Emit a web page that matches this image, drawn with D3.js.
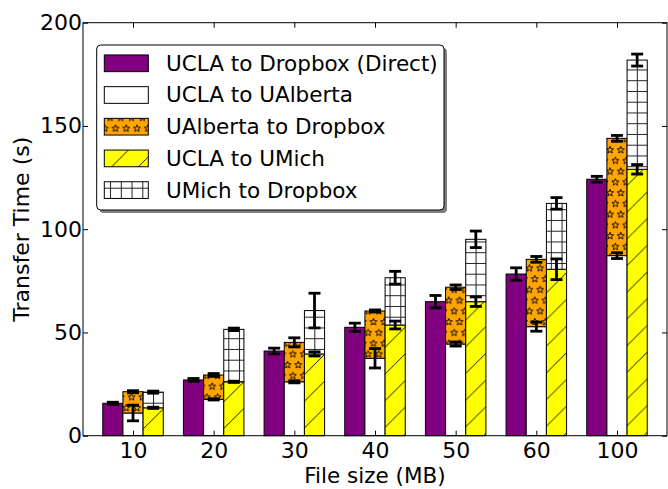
<!DOCTYPE html>
<html>
<head>
<meta charset="utf-8">
<script src="https://cdn.jsdelivr.net/npm/d3@7"></script>
<style>
  html, body { margin: 0; padding: 0; background: #fff; }
  svg { display: block; font-family: "DejaVu Sans", sans-serif; }
</style>
</head>
<body>
<svg id="chart" width="668" height="489"></svg>
<script>
// File sizes on the x axis
const fileSizes = ["10", "20", "30", "40", "50", "60", "100"];

// Mean transfer times (s) and their error bars
const direct               = [15.7, 27.0, 41.0, 52.5, 64.9, 78.3, 124.2];
const directErr            = [0.5, 0.7, 1.4, 2.0, 3.0, 3.0, 1.4];
const uclaToUAlberta       = [11.0, 17.6, 26.1, 37.5, 44.4, 52.8, 87.2];
const uclaToUAlbertaErr    = [3.8, 0.3, 0.5, 4.7, 1.0, 2.2, 1.4];
const uAlbertaToDropbox    = [10.3, 11.8, 19.1, 22.9, 27.5, 32.6, 56.8];
const uAlbertaToDropboxErr = [0.5, 0.7, 2.2, 0.5, 1.1, 1.4, 1.4];
const uclaToUMich          = [13.5, 26.1, 39.6, 53.6, 64.9, 80.6, 129.0];
const uclaToUMichErr       = [0.3, 0.3, 1.0, 1.9, 2.3, 5.0, 2.3];
const uMichToDropbox       = [7.6, 25.4, 21.0, 22.9, 30.2, 31.9, 52.9];
const uMichToDropboxErr    = [0.5, 0.6, 8.4, 3.1, 4.0, 2.8, 2.9];

// Axis ticks
const yTicks = [0, 50, 100, 150, 200];

const svg = d3.select("#chart");
const plot = { left: 83, right: 667, top: 22.7, bottom: 435.7 };

const x = d3.scaleLinear().domain([-0.62, 6.62]).range([plot.left, plot.right]);
const y = d3.scaleLinear().domain([0, 200]).range([plot.bottom, plot.top]);
const barW = 0.25;

// ---- hatch patterns ----
const defs = svg.append("defs");

function starPath(cx, cy, R, r) {
  const pts = [];
  for (let k = 0; k < 10; k++) {
    const a = -Math.PI / 2 + k * Math.PI / 5;
    const rad = k % 2 === 0 ? R : r;
    pts.push([cx + rad * Math.cos(a), cy + rad * Math.sin(a)]);
  }
  return "M" + pts.map(p => p[0].toFixed(2) + "," + p[1].toFixed(2)).join("L") + "Z";
}

// stars on orange
const sStar = 10.75;
const pStars = defs.append("pattern").attr("id", "stars")
  .attr("patternUnits", "userSpaceOnUse")
  .attr("x", 8).attr("y", 21)
  .attr("width", sStar).attr("height", 2 * sStar);
pStars.append("rect").attr("width", sStar).attr("height", 2 * sStar).attr("fill", "#FFA500");
[[0, 0], [sStar, 0], [0, 2 * sStar], [sStar, 2 * sStar], [sStar / 2, sStar]].forEach(([cx, cy]) => {
  pStars.append("path").attr("d", starPath(cx, cy, 3.7, 1.55))
    .attr("fill", "none").attr("stroke", "#000").attr("stroke-width", 0.9);
});

// diagonal lines on yellow
const sSlash = 26.7;
const pSlash = defs.append("pattern").attr("id", "slash")
  .attr("patternUnits", "userSpaceOnUse")
  .attr("x", 11.5).attr("y", 0)
  .attr("width", sSlash).attr("height", sSlash);
pSlash.append("rect").attr("width", sSlash).attr("height", sSlash).attr("fill", "#FFFF00");
pSlash.append("path")
  .attr("d", `M-2,2L2,-2M0,${sSlash}L${sSlash},0M${sSlash - 2},${sSlash + 2}L${sSlash + 2},${sSlash - 2}`)
  .attr("stroke", "#000").attr("stroke-width", 0.9);

// square grid on white
const sGrid = 10.75;
const pGrid = defs.append("pattern").attr("id", "grid")
  .attr("patternUnits", "userSpaceOnUse")
  .attr("x", 3.05 - sGrid / 2).attr("y", 5.45 - sGrid / 2)
  .attr("width", sGrid).attr("height", sGrid);
pGrid.append("rect").attr("width", sGrid).attr("height", sGrid).attr("fill", "#fff");
pGrid.append("path")
  .attr("d", `M${sGrid / 2},0V${sGrid}M0,${sGrid / 2}H${sGrid}`)
  .attr("stroke", "#222").attr("stroke-width", 1);

// ---- series layout ----
const zeros = fileSizes.map(() => 0);
const layers = [
  { name: "UCLA to Dropbox (Direct)", values: direct, err: directErr, base: zeros, offset: -0.25, fill: "#800080" },
  { name: "UCLA to UAlberta", values: uclaToUAlberta, err: uclaToUAlbertaErr, base: zeros, offset: 0, fill: "#ffffff" },
  { name: "UAlberta to Dropbox", values: uAlbertaToDropbox, err: uAlbertaToDropboxErr, base: uclaToUAlberta, offset: 0, fill: "url(#stars)" },
  { name: "UCLA to UMich", values: uclaToUMich, err: uclaToUMichErr, base: zeros, offset: 0.25, fill: "url(#slash)" },
  { name: "UMich to Dropbox", values: uMichToDropbox, err: uMichToDropboxErr, base: uclaToUMich, offset: 0.25, fill: "url(#grid)" }
];

// ---- bars ----
const barsG = svg.append("g");
layers.forEach(layer => {
  barsG.append("g").selectAll("rect")
    .data(layer.values)
    .join("rect")
    .attr("x", (d, i) => x(i + layer.offset - barW / 2))
    .attr("width", (d, i) => x(i + layer.offset + barW / 2) - x(i + layer.offset - barW / 2))
    .attr("y", (d, i) => y(layer.base[i] + d))
    .attr("height", (d, i) => y(layer.base[i]) - y(layer.base[i] + d))
    .attr("fill", layer.fill)
    .attr("stroke", "#000")
    .attr("stroke-width", 1);
});

// ---- error bars ----
const errG = svg.append("g").attr("stroke", "#000").attr("stroke-width", 2.8);
const capHalf = 6;
layers.forEach(layer => {
  layer.values.forEach((v, i) => {
    const cx = x(i + layer.offset);
    const top = layer.base[i] + v;
    const lo = y(top - layer.err[i]);
    const hi = y(top + layer.err[i]);
    errG.append("line").attr("x1", cx).attr("x2", cx).attr("y1", lo).attr("y2", hi);
    errG.append("line").attr("x1", cx - capHalf).attr("x2", cx + capHalf).attr("y1", lo).attr("y2", lo);
    errG.append("line").attr("x1", cx - capHalf).attr("x2", cx + capHalf).attr("y1", hi).attr("y2", hi);
  });
});

// ---- axes ----
const idx = d3.range(fileSizes.length);
function styleAxis(g) {
  g.select(".domain").remove();
  g.attr("font-family", "DejaVu Sans, sans-serif").attr("font-size", 22);
  g.selectAll(".tick line").attr("stroke", "#000").attr("stroke-width", 1);
  g.selectAll(".tick text").attr("fill", "#000");
}

svg.append("g")
  .attr("transform", `translate(0,${y(0)})`)
  .call(d3.axisBottom(x).tickValues(idx).tickFormat(i => fileSizes[i])
    .tickSize(-5).tickSizeOuter(0).tickPadding(6.5))
  .call(styleAxis);

svg.append("g")
  .attr("transform", `translate(0,${y(200)})`)
  .call(d3.axisTop(x).tickValues(idx).tickFormat("").tickSize(-5).tickSizeOuter(0))
  .call(styleAxis);

svg.append("g")
  .attr("transform", `translate(${plot.left},0)`)
  .call(d3.axisLeft(y).tickValues(yTicks).tickFormat(d3.format("d"))
    .tickSize(-5).tickSizeOuter(0).tickPadding(1))
  .call(styleAxis);

svg.append("g")
  .attr("transform", `translate(${plot.right},0)`)
  .call(d3.axisRight(y).tickValues(yTicks).tickFormat("").tickSize(-5).tickSizeOuter(0))
  .call(styleAxis);

// frame
svg.append("rect")
  .attr("x", plot.left).attr("y", plot.top)
  .attr("width", plot.right - plot.left).attr("height", plot.bottom - plot.top)
  .attr("fill", "none").attr("stroke", "#000").attr("stroke-width", 1);

// axis titles
svg.append("text")
  .attr("x", (plot.left + plot.right) / 2).attr("y", 482.5)
  .attr("text-anchor", "middle").attr("font-size", 21.5).attr("fill", "#000")
  .text("File size (MB)");

svg.append("text")
  .attr("transform", `translate(28.8,${(plot.top + plot.bottom) / 2}) rotate(-90)`)
  .attr("text-anchor", "middle").attr("font-size", 22).attr("fill", "#000")
  .text("Transfer Time (s)");

// ---- legend ----
const legend = svg.append("g");
const lg = { x: 96.7, y: 45, w: 347.3, h: 165 };
legend.append("rect")
  .attr("x", lg.x + 3).attr("y", lg.y + 3).attr("width", lg.w).attr("height", lg.h)
  .attr("rx", 4).attr("fill", "#000").attr("opacity", 0.5);
legend.append("rect")
  .attr("x", lg.x).attr("y", lg.y).attr("width", lg.w).attr("height", lg.h)
  .attr("rx", 4).attr("fill", "#fff").attr("stroke", "#000").attr("stroke-width", 1);

layers.forEach((layer, k) => {
  const cy = 63.3 + k * 31.7;
  legend.append("rect")
    .attr("x", 104.3).attr("y", cy - 8.35).attr("width", 44).attr("height", 16.7)
    .attr("fill", layer.fill).attr("stroke", "#000").attr("stroke-width", 1);
  legend.append("text")
    .attr("x", 166).attr("y", cy + 7.4)
    .attr("font-size", 21.5).attr("fill", "#000")
    .text(layer.name);
});
</script>
</body>
</html>
